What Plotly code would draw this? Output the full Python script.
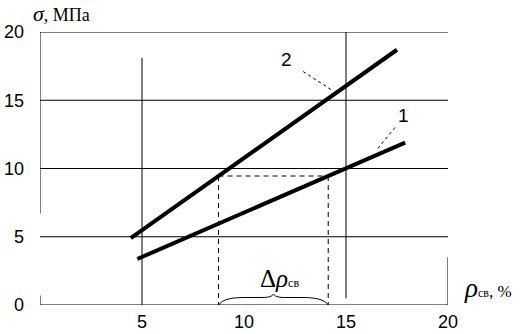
import plotly.graph_objects as go

# ---- data ----
x_ticks = [5, 10, 15, 20]
y_ticks = [0, 5, 10, 15, 20]
line1_x = [4.77, 17.9]
line1_y = [3.37, 11.9]
line2_x = [4.45, 17.5]
line2_y = [4.9, 18.7]
series_labels = ["1", "2"]
sigma_level = 9.45  # level used for the Δρ construction

def x_at(xs, ys, yv):
    return xs[0] + (yv - ys[0]) * (xs[1] - xs[0]) / (ys[1] - ys[0])

x_left = x_at(line2_x, line2_y, sigma_level)
x_right = x_at(line1_x, line1_y, sigma_level)

fig = go.Figure()
for xs, ys in [(line1_x, line1_y), (line2_x, line2_y)]:
    fig.add_trace(go.Scatter(x=xs, y=ys, mode="lines",
                             line=dict(color="black", width=4),
                             showlegend=False, hoverinfo="skip"))

thin = dict(color="black", width=1)
shapes = []
# horizontal grid lines
for yv in y_ticks:
    shapes.append(dict(type="line", xref="x", yref="y", x0=0, x1=20, y0=yv, y1=yv, line=thin, layer="below"))
# vertical segments (left axis broken, grid at 5 and 15, stub at 20)
vsegs = [(0, 20, 6.7), (0, 0.7, 0), (5, 18.1, 0), (15, 20, 0.5), (20, 3.5, 0)]
for xv, ya, yb in vsegs:
    shapes.append(dict(type="line", xref="x", yref="y", x0=xv, x1=xv, y0=ya, y1=yb, line=thin, layer="below"))
# dashed construction
dash = dict(color="black", width=1, dash="5px,4px")
shapes.append(dict(type="line", xref="x", yref="y", x0=x_left, x1=x_right, y0=sigma_level, y1=sigma_level, line=dash))
shapes.append(dict(type="line", xref="x", yref="y", x0=x_left, x1=x_left, y0=sigma_level, y1=0, line=dash))
shapes.append(dict(type="line", xref="x", yref="y", x0=x_right, x1=x_right, y0=sigma_level, y1=0, line=dash))
# brace
xm = (x_left + x_right) / 2
w = x_right - x_left
h, hp = 0.55, 0.8
path = (f"M {x_left},0 C {x_left+0.04*w},{h*0.8} {x_left+0.12*w},{h} {x_left+0.25*w},{h} "
        f"L {xm-0.1*w},{h} C {xm-0.04*w},{h} {xm-0.01*w},{h+0.1} {xm},{hp} "
        f"C {xm+0.01*w},{h+0.1} {xm+0.04*w},{h} {xm+0.1*w},{h} "
        f"L {x_right-0.25*w},{h} C {x_right-0.12*w},{h} {x_right-0.04*w},{h*0.8} {x_right},0")
shapes.append(dict(type="path", xref="x", yref="y", path=path, line=thin))
# leader lines
dot = dict(color="black", width=1, dash="dot")
shapes.append(dict(type="line", xref="x", yref="y", x0=12.9, y0=17.1, x1=14.3, y1=15.75, line=dot))
shapes.append(dict(type="line", xref="x", yref="y", x0=17.4, y0=13.0, x1=16.5, y1=11.35, line=dot))

annots = [
    dict(x=12.1, y=17.95, text=series_labels[1], xref="x", yref="y", showarrow=False,
         font=dict(family="Liberation Sans", size=19, color="black")),
    dict(x=17.8, y=13.9, text=series_labels[0], xref="x", yref="y", showarrow=False,
         font=dict(family="Liberation Sans", size=19, color="black")),
    dict(x=xm + 0.3, y=1.95, xref="x", yref="y", showarrow=False,
         text='Δ<i>ρ</i><span style="font-size:12px">св</span>',
         font=dict(family="Liberation Serif", size=25, color="black")),
    dict(x=(462 - 40) / 408, y=(305 - 288) / 273, xref="paper", yref="paper", xanchor="left",
         yanchor="middle", showarrow=False,
         text='<i><span style="font-size:27px">ρ</span></i><span style="font-size:12px">св</span>, %',
         font=dict(family="Liberation Serif", size=17, color="black")),
    dict(x=(31 - 40) / 408, y=(305 - 13) / 273, xref="paper", yref="paper", xanchor="left",
         yanchor="middle", showarrow=False,
         text='<i><span style="font-size:22px">σ</span></i>, МПа',
         font=dict(family="Liberation Serif", size=18, color="black")),
]

fig.update_layout(
    width=521, height=334,
    margin=dict(l=40, r=73, t=32, b=29, autoexpand=False),
    paper_bgcolor="white", plot_bgcolor="white",
    shapes=shapes, annotations=annots,
    xaxis=dict(range=[0, 20], tickvals=x_ticks, ticktext=[str(v) for v in x_ticks],
               showgrid=False, zeroline=False, showline=False, ticks="", automargin=False,
               ticklabelstandoff=4,
               tickfont=dict(family="Liberation Sans", size=18, color="black")),
    yaxis=dict(range=[0, 20], tickvals=y_ticks, ticktext=[str(v) for v in y_ticks],
               showgrid=False, zeroline=False, showline=False, ticks="", automargin=False,
               ticklabelstandoff=15,
               tickfont=dict(family="Liberation Sans", size=18, color="black")),
)
fig.write_html("out.html", config={"displayModeBar": False},
               post_script="document.body.style.margin='0';document.body.style.overflow='hidden';")
